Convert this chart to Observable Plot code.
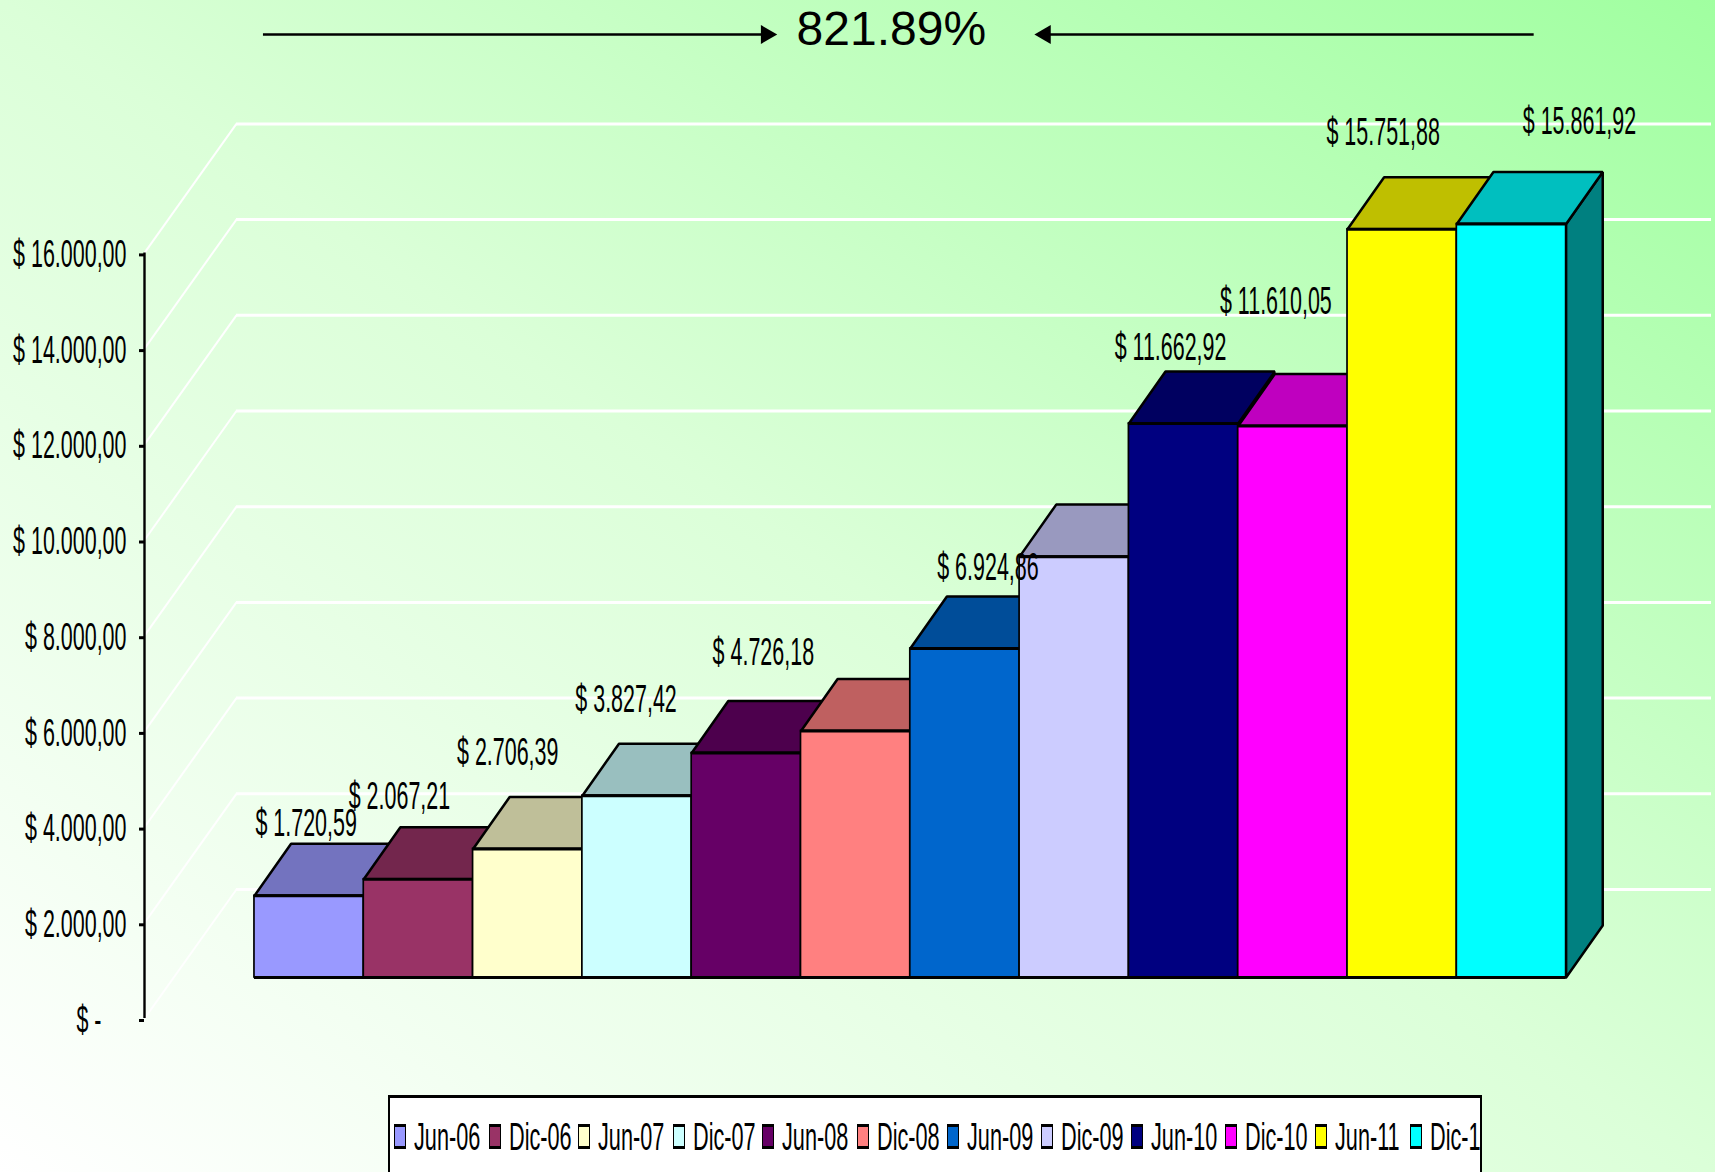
<!DOCTYPE html>
<html><head><meta charset="utf-8">
<script src="https://cdn.jsdelivr.net/npm/d3@7"></script>
<script src="https://cdn.jsdelivr.net/npm/@observablehq/plot@0.6"></script>
<style>
html,body{margin:0;padding:0;width:1715px;height:1172px;overflow:hidden;background:linear-gradient(to top right,#ffffff 0%,#dbffd8 50%,#a0ffa0 100%);font-family:"Liberation Sans",Arial,sans-serif}
#legend{position:absolute;left:388px;top:1095px;width:1090px;height:80px;background:#fff;border:2px solid #000;border-top-width:3px;overflow:hidden;white-space:nowrap}
.ent{position:absolute;top:26px;height:26px}
.sw{position:absolute;left:0;top:0;width:10px;height:19px;border-style:solid;border-color:#000;border-width:3px 1.5px}
.tx{position:absolute;left:20px;top:-8px;font-size:38px;line-height:42px;transform:scaleX(.57);transform-origin:0 0;color:#000}
</style></head><body>
<div id="chart"></div><div id="legend"></div>
<script>
const periods=["Jun-06","Dic-06","Jun-07","Dic-07","Jun-08","Dic-08","Jun-09","Dic-09","Jun-10","Dic-10","Jun-11","Dic-11"];
const legendLabels=["Jun-06","Dic-06","Jun-07","Dic-07","Jun-08","Dic-08","Jun-09","Dic-09","Jun-10","Dic-10","Jun-11","Dic-1"];
const values=[1720.59,2067.21,2706.39,3827.42,4726.18,5190,6924.86,8860,11662.92,11610.05,15751.88,15861.92];
const labels=["$ 1.720,59","$ 2.067,21","$ 2.706,39","$ 3.827,42","$ 4.726,18",null,"$ 6.924,86",null,"$ 11.662,92","$ 11.610,05","$ 15.751,88","$ 15.861,92"];
const colors=["#9999FF","#993366","#FFFFCC","#CCFFFF","#660066","#FF8080","#0066CC","#CCCCFF","#000080","#FF00FF","#FFFF00","#00FFFF"];
const ticks=[0,2000,4000,6000,8000,10000,12000,14000,16000];
const tickLabels=["$ -","$ 2.000,00","$ 4.000,00","$ 6.000,00","$ 8.000,00","$ 10.000,00","$ 12.000,00","$ 14.000,00","$ 16.000,00"];
const headline="821.89%";
// label placement nudges, in pixels from each bar's top-centre
const nudgeX=[-3,-19,-20,-11,17,0,23,0,-13,-17,-19,68];
const nudgeY=[-72,-82,-96,-96,-100,0,-81,0,-76,-124,-96,-102];

// pseudo-3D projection, expressed in scale units
const yUnit=0.04785, floorLift=857, valueScale=0.9927, depthX=0.335, depthY=1087;
const wallX=0.841, wallY=2696;
const xAxis=-1.006, xEnd=13.33;
const barTop=v=>floorLift+v*valueScale;
const shade=(c,k)=>{const r=d3.rgb(c);return d3.rgb(r.r*k,r.g*k,r.b*k).formatHex()};
const xPx=p=>(p-254)/109.33, yPx=p=>(1018-p)/yUnit;

const bars=values.map((v,i)=>({i,period:periods[i],v,label:labels[i],color:colors[i],top:barTop(v)}));
const poly=(id,fill,pts)=>pts.concat([pts[0]]).map(([x,y])=>({id,fill,x,y}));
const faces=bars.flatMap(b=>poly("t"+b.i,shade(b.color,.75),[[b.i,b.top],[b.i+depthX,b.top+depthY],[b.i+1+depthX,b.top+depthY],[b.i+1,b.top]]));
const last=bars[bars.length-1];
const side=poly("s",shade(last.color,.5),[[12,floorLift],[12,last.top],[12+depthX,last.top+depthY],[12+depthX,floorLift+depthY]]);

const chart=Plot.plot({
  width:1715,height:1096,marginLeft:144,marginRight:4,marginTop:0,marginBottom:78,
  style:{background:"transparent",color:"#000",fontFamily:'"Liberation Sans",Arial,sans-serif'},
  x:{axis:null,domain:[xAxis,xEnd]},
  y:{axis:null,domain:[0,1018/yUnit]},
  color:{type:"identity"},
  marks:[
    Plot.ruleY(ticks,{y:d=>d+wallY,x1:xAxis+wallX,x2:xEnd,stroke:"#fff",strokeWidth:3}),
    Plot.link(ticks,{x1:xAxis,y1:d=>d,x2:xAxis+wallX,y2:d=>d+wallY,stroke:"#fff",strokeWidth:2}),
    Plot.ruleX([xAxis],{y1:0,y2:16000,stroke:"#000",strokeWidth:2.4}),
    Plot.axisY(ticks.slice(1),{anchor:"left",label:null,tickSize:5,tickPadding:13,fontSize:38,dy:2,strokeWidth:3,tickFormat:d=>tickLabels[ticks.indexOf(d)]}),
    Plot.axisY([0],{anchor:"left",label:null,tickSize:5,tickPadding:38,fontSize:38,dy:2,strokeWidth:3,tickFormat:()=>tickLabels[0]}),
    Plot.line(side,{x:"x",y:"y",z:"id",fill:"fill",stroke:"#000",strokeWidth:2.5,strokeLinejoin:"miter"}),
    Plot.line(faces,{x:"x",y:"y",z:"id",fill:"fill",stroke:"#000",strokeWidth:2.5,strokeLinejoin:"miter"}),
    Plot.rect(bars,{x1:b=>b.i,x2:b=>b.i+1,y1:floorLift,y2:"top",fill:"color",stroke:"#000",strokeWidth:1.7}),
    Plot.ruleY(bars,{y:"top",x1:"i",x2:b=>b.i+1,stroke:"#000",strokeWidth:3}),
    Plot.ruleY([floorLift],{x1:0,x2:12,stroke:"#000",strokeWidth:3}),
    ...bars.filter(b=>b.label).map(b=>Plot.text([b],{x:d=>d.i+.5,y:"top",text:"label",dx:nudgeX[b.i],dy:nudgeY[b.i],fontSize:38,fill:"#000",lineAnchor:"middle"})),
    Plot.ruleY([yPx(34)],{x1:xPx(263),x2:xPx(766),stroke:"#000",strokeWidth:2.4}),
    Plot.ruleY([yPx(34)],{x1:xPx(1045),x2:xPx(1534),stroke:"#000",strokeWidth:2.4}),
    Plot.dot([0],{x:()=>xPx(766),y:()=>yPx(34),symbol:"triangle",rotate:90,r:7,fill:"#000",stroke:null}),
    Plot.dot([0],{x:()=>xPx(1045),y:()=>yPx(34),symbol:"triangle",rotate:-90,r:7,fill:"#000",stroke:null}),
    Plot.text([headline],{x:()=>xPx(891),y:()=>yPx(29),text:d=>d,fontSize:48,fill:"#000",lineAnchor:"middle"})
  ]
});
// the reference's labels are horizontally squeezed
d3.select(chart).selectAll("text").each(function(){
  if(this.textContent.includes(headline))return;
  const t=this.getAttribute("transform")||"";
  const x=+this.getAttribute("x")||0;
  this.setAttribute("transform",`${t} translate(${x},0) scale(.565,1)`);
  this.removeAttribute("x");
  this.querySelectorAll("tspan").forEach(s=>s.removeAttribute("x"));
});
document.getElementById("chart").append(chart);

const lg=document.getElementById("legend");
let lx=4;
legendLabels.forEach((p,i)=>{
  const e=document.createElement("div");e.className="ent";e.style.left=lx+"px";
  const s=document.createElement("div");s.className="sw";s.style.background=colors[i];
  const t=document.createElement("div");t.className="tx";t.textContent=p;
  e.append(s,t);lg.append(e);
  lx+=i%2?89.6:94.6;
});
</script>
</body></html>
